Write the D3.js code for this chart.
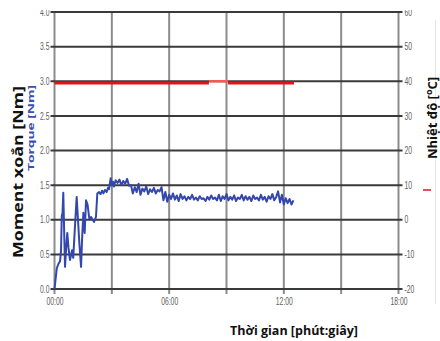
<!DOCTYPE html>
<html><head><meta charset="utf-8">
<script src="https://cdn.jsdelivr.net/npm/d3@7"></script>
<style>
html,body{margin:0;padding:0;background:#fff;}
svg{display:block;}
.tick text{font-family:"Liberation Sans",Arial,sans-serif;font-size:10px;fill:#606060;}
</style></head>
<body>
<svg id="c" width="440" height="341"></svg>
<script>
// ---- data ----
const torqueTicks = [0, 0.5, 1.0, 1.5, 2.0, 2.5, 3.0, 3.5, 4.0];
const tempTicks = [-20, -10, 0, 10, 20, 30, 40, 50, 60];
const gridMinutes = [0, 3, 6, 9, 12, 15, 18];
const xTickMinutes = [0, 6, 12, 18];
const xTickLabels = ["00:00", "06:00", "12:00", "18:00"];

// torque time (minutes) and value (Nm)
const torqueTime = [
  0, 0.12, 0.20, 0.29, 0.34, 0.38, 0.42, 0.46, 0.50, 0.55, 0.60, 0.67, 0.73, 0.81, 0.92, 0.98,
  1.07, 1.16, 1.23, 1.30, 1.39, 1.44, 1.51, 1.58, 1.65, 1.73, 1.82, 1.91, 1.99, 2.07, 2.17, 2.24,
  2.33, 2.41, 2.49, 2.56, 2.64, 2.73, 2.80, 2.85, 2.94, 2.99, 3.06, 3.11,
  3.2, 3.3, 3.4, 3.5, 3.6, 3.7, 3.8, 3.9,
  4.0, 4.1, 4.2, 4.3, 4.4, 4.5, 4.6, 4.7, 4.8, 4.9, 5.0, 5.1, 5.2, 5.3, 5.4, 5.5,
  5.6, 5.7, 5.8, 5.9,
  6.0, 6.1, 6.2, 6.3, 6.4, 6.5, 6.6, 6.7, 6.8, 6.9,
  7.0, 7.1, 7.2, 7.3, 7.4, 7.5, 7.6, 7.7, 7.8, 7.9,
  8.0, 8.1, 8.2, 8.3, 8.4, 8.5, 8.6, 8.7, 8.8, 8.9,
  9.0, 9.1, 9.2, 9.3, 9.4, 9.5, 9.6, 9.7, 9.8, 9.9,
  10.0, 10.1, 10.2, 10.3, 10.4, 10.5, 10.6, 10.7, 10.8, 10.9,
  11.0, 11.1, 11.2, 11.3, 11.4, 11.5, 11.6, 11.7, 11.8, 11.9,
  12.0, 12.1, 12.2, 12.3, 12.4, 12.5
];
const torqueValue = [
  0.00, 0.30, 0.36, 0.40, 0.55, 1.05, 1.10, 1.39, 0.90, 0.32, 0.55, 0.81, 0.60, 0.42, 0.56, 0.45,
  0.90, 1.33, 1.00, 0.66, 0.32, 0.70, 1.10, 0.81, 1.28, 1.22, 1.02, 1.04, 1.00, 0.97, 1.04, 1.38,
  1.40, 1.37, 1.42, 1.38, 1.43, 1.40, 1.46, 1.44, 1.60, 1.50, 1.55, 1.48,
  1.57, 1.53, 1.58, 1.50, 1.56, 1.52, 1.59, 1.49,
  1.50, 1.38, 1.47, 1.40, 1.52, 1.36, 1.45, 1.41, 1.48, 1.37, 1.44, 1.40, 1.46, 1.38, 1.43, 1.41,
  1.47, 1.28, 1.40, 1.26,
  1.36, 1.30, 1.38, 1.29, 1.35, 1.27, 1.37, 1.30, 1.34, 1.28,
  1.33, 1.30, 1.36, 1.29, 1.32, 1.28, 1.34, 1.30, 1.31, 1.27,
  1.33, 1.29, 1.35, 1.30, 1.32, 1.28, 1.36, 1.27, 1.34, 1.30,
  1.37, 1.28, 1.33, 1.29, 1.35, 1.27, 1.32, 1.30, 1.36, 1.28,
  1.34, 1.29, 1.33, 1.27, 1.35, 1.30, 1.32, 1.28, 1.36, 1.29,
  1.33, 1.26, 1.34, 1.30, 1.37, 1.28, 1.33, 1.41, 1.25, 1.36,
  1.22, 1.31, 1.24, 1.30, 1.22, 1.28
];

// temperature line segments (minutes, °C)
const tempTime = [0, 8.08, 9.08, 12.53];
const tempValue = [39.5, 39.5, 40.0, 39.5];

// ---- drawing ----
const svg = d3.select("#c");
const x = d3.scaleLinear().domain([0, 18]).range([54.5, 398.5]);
const y = d3.scaleLinear().domain([0, 4]).range([289, 12]);
const yT = d3.scaleLinear().domain([-20, 60]).range([289, 12]);

// vertical grid
svg.append("g").selectAll("line").data(gridMinutes).join("line")
  .attr("x1", d => x(d)).attr("x2", d => x(d))
  .attr("y1", y(4)).attr("y2", y(0) + 5)
  .attr("stroke", "#8c8c8c").attr("stroke-width", 2);

// horizontal grid
svg.append("g").selectAll("line").data(torqueTicks).join("line")
  .attr("x1", x(0) - 4).attr("x2", x(18) + 4)
  .attr("y1", d => y(d)).attr("y2", d => y(d))
  .attr("stroke", "#3a3a3a").attr("stroke-width", 2);

// left axis labels
const la = svg.append("g").attr("transform", `translate(${x(0) - 5},0)`)
  .call(d3.axisLeft(y).tickValues(torqueTicks).tickFormat(d3.format(".1f")).tickSize(0).tickPadding(0));
la.select(".domain").remove();
la.selectAll("text").attr("x", 0).attr("transform", "scale(0.68,1)");

// right axis labels
const ra = svg.append("g").attr("transform", `translate(${x(18) + 6},0)`)
  .call(d3.axisRight(yT).tickValues(tempTicks).tickFormat(d => String(d)).tickSize(0).tickPadding(0));
ra.select(".domain").remove();
ra.selectAll("text").attr("x", 0).attr("transform", "scale(0.68,1)");

// bottom labels
const ba = svg.append("g").attr("transform", `translate(0,${y(0) + 9})`)
  .call(d3.axisBottom(x).tickValues(xTickMinutes).tickFormat((d, i) => xTickLabels[i]).tickSize(0).tickPadding(0));
ba.select(".domain").remove();
ba.selectAll("text").attr("dy", "0.71em").attr("y", 0).attr("transform", "scale(0.68,1)");

// temperature line
const tPts = tempTime.map((t, i) => [t, tempValue[i]]);
const tl = d3.line().x(d => x(d[0])).y(d => yT(d[1]));
svg.append("path").attr("d", tl([tPts[0], [tPts[1][0], tPts[0][1]]])).attr("fill", "none").attr("stroke", "#e0141c").attr("stroke-width", 3);
svg.append("path").attr("d", tl([[tPts[1][0], tPts[2][1]], tPts[2]])).attr("fill", "none").attr("stroke", "#f25a5a").attr("stroke-width", 2.5);
svg.append("path").attr("d", tl([[tPts[2][0], tPts[3][1]], tPts[3]])).attr("fill", "none").attr("stroke", "#e0141c").attr("stroke-width", 3);

// torque line
const qPts = torqueTime.map((t, i) => [t, torqueValue[i]]);
svg.append("path").attr("d", d3.line().x(d => x(d[0])).y(d => y(d[1]))(qPts))
  .attr("fill", "none").attr("stroke", "#3447ad").attr("stroke-width", 2).attr("stroke-linejoin", "round");

// top crop mask
svg.append("rect").attr("x", 0).attr("y", 0).attr("width", 440).attr("height", 10).attr("fill", "#fff");

// faint right border line
svg.append("line").attr("x1", 435.5).attr("x2", 435.5).attr("y1", 20).attr("y2", 304)
  .attr("stroke", "#e6e6e6").attr("stroke-width", 1);

// axis titles
svg.append("text").attr("transform", "translate(23,172) rotate(-90)")
  .attr("text-anchor", "middle").attr("font-family", "'Open Sans',sans-serif")
  .attr("font-weight", "bold").attr("font-size", 14.5).attr("fill", "#111")
  .attr("textLength", 172).attr("lengthAdjust", "spacingAndGlyphs")
  .text("Moment xoắn [Nm]");
svg.append("text").attr("transform", "translate(34,128) rotate(-90)")
  .attr("text-anchor", "middle").attr("font-family", "'Open Sans',sans-serif")
  .attr("font-weight", "bold").attr("font-size", 9).attr("fill", "#3a4fb0")
  .attr("textLength", 86).attr("lengthAdjust", "spacingAndGlyphs")
  .text("Torque [Nm]");
const nt = svg.append("text").attr("transform", "translate(437,118) rotate(-90)")
  .attr("text-anchor", "middle").attr("font-family", "'Open Sans',sans-serif")
  .attr("font-weight", "bold").attr("font-size", 13).attr("fill", "#111");
nt.append("tspan").text("Nhiệt độ [");
nt.append("tspan").attr("dy", -5).attr("font-size", 9).text("o");
nt.append("tspan").attr("dy", 5).text("C]");
svg.append("text").attr("x", 294).attr("y", 335)
  .attr("text-anchor", "middle").attr("font-family", "'Open Sans',sans-serif")
  .attr("font-weight", "bold").attr("font-size", 12.5).attr("fill", "#111")
  .text("Thời gian [phút:giây]");

// legend fragment (red dash)
svg.append("line").attr("x1", 423).attr("x2", 431).attr("y1", 190).attr("y2", 190)
  .attr("stroke", "#e0141c").attr("stroke-width", 1.5);
</script>
</body></html>
